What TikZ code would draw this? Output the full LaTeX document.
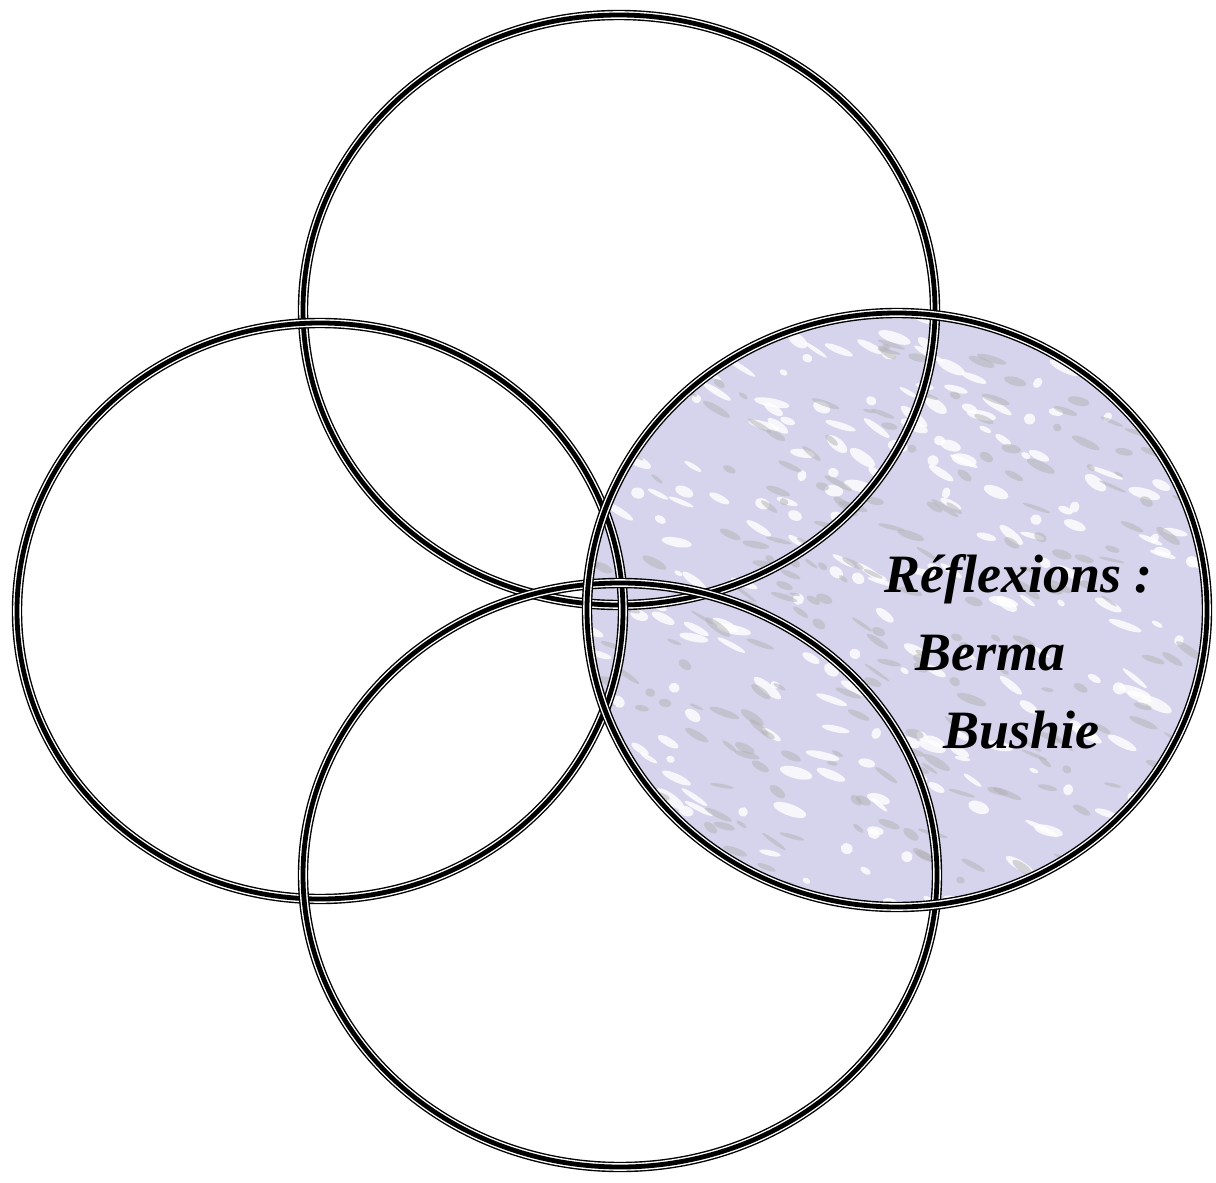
\documentclass[tikz,border=0pt]{standalone}
\usepackage{fontspec}
\setmainfont{Liberation Serif}
\usetikzlibrary{positioning}
\definecolor{MistLilac}{RGB}{214,212,236}
\definecolor{StoneGray}{RGB}{178,178,180}
\tikzset{
  ring/.style={draw=black,line width=5.2pt},
  ringgap/.style={draw=white,line width=3.8pt},
  ringcore/.style={draw=black,line width=2.4pt},
  note/.style={font=\fontsize{27}{30}\selectfont\bfseries\itshape,anchor=base west,inner sep=0pt},
}

\begin{document}
\begin{tikzpicture}[x=0.5pt,y=-0.5pt]
  \useasboundingbox (0,0) rectangle (1216,1183);
  % centres and radii of the rings
  \coordinate (top) at (619,310);
  \coordinate (left) at (320,611);
  \coordinate (bottom) at (620,875);
  \coordinate (right) at (897,610);
  % shaded ring with a mottled texture
  \fill[MistLilac] (right) ellipse [x radius=310,y radius=297];
  \begin{scope}
    \clip (right) ellipse [x radius=310,y radius=297];
    \pgfmathsetseed{7}
    \foreach \k in {1,...,260}{
      \pgfmathsetmacro{\px}{590+rnd*620}
      \pgfmathsetmacro{\py}{310+rnd*600}
      \pgfmathsetmacro{\rw}{4+rnd*14}
      \pgfmathsetmacro{\rh}{2+rnd*4}
      \pgfmathsetmacro{\ang}{-40+rnd*30}
      \fill[white,opacity=0.8,rotate around={\ang:(\px,\py)}] (\px,\py) ellipse [x radius=\rw,y radius=\rh];
    }
    \foreach \k in {1,...,260}{
      \pgfmathsetmacro{\px}{590+rnd*620}
      \pgfmathsetmacro{\py}{310+rnd*600}
      \pgfmathsetmacro{\rw}{4+rnd*12}
      \pgfmathsetmacro{\rh}{1.5+rnd*3}
      \pgfmathsetmacro{\ang}{-40+rnd*30}
      \fill[StoneGray,opacity=0.5,rotate around={\ang:(\px,\py)}] (\px,\py) ellipse [x radius=\rw,y radius=\rh];
    }
  \end{scope}
  % rings
  \foreach \c/\rx/\ry in {top/316/295,left/303/288,bottom/317/292,right/310/297}{
    \draw[ring] (\c) ellipse [x radius=\rx,y radius=\ry];
    \draw[ringgap] (\c) ellipse [x radius=\rx,y radius=\ry];
    \draw[ringcore] (\c) ellipse [x radius=\rx,y radius=\ry];
  }
  % label
  \node[note] (title) at (884,592) {Réflexions :};
  \node[note] (name1) at (915,670) {Berma};
  \node[note] (name2) at (943,748) {Bushie};
\end{tikzpicture}
\end{document}
